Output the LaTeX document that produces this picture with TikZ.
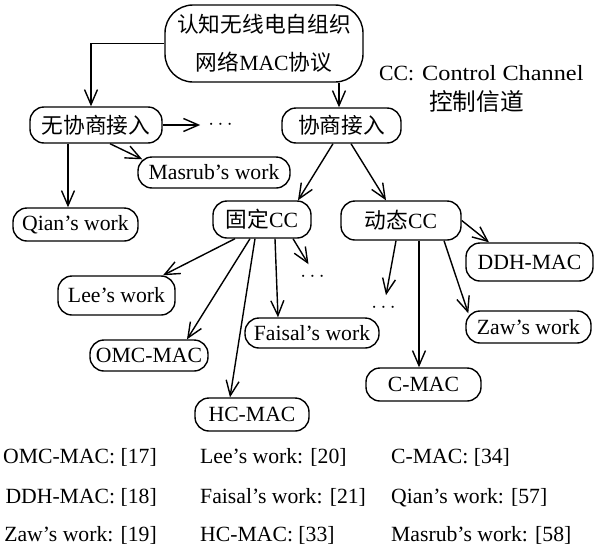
\documentclass[tikz,border=0pt]{standalone}
\usepackage{fontspec}
\usepackage{graphicx}
\setmainfont{Liberation Serif}
\newfontfamily\cjk{Noto Sans CJK SC}
\usetikzlibrary{arrows.meta}
\tikzset{
  proto/.style={draw, line width=1.4pt, rounded corners=14pt, inner sep=0pt, minimum height=34pt},
  more/.style={inner sep=8pt},
  cite/.style={inner sep=0pt},
  arr/.style={line width=1.4pt, -{Straight Barb[length=15pt,width=13pt]}}
}

\begin{document}
\begin{tikzpicture}[x=1pt,y=-1pt,font=\fontsize{21.7}{26}\selectfont]
  \useasboundingbox (0,0) rectangle (602,549);
  \node[proto, rounded corners=28pt, minimum width=198pt, minimum height=77pt, align=center,
    font=\fontsize{21.7}{38}\selectfont] (root) at (264,43.5) {{\cjk 认知无线电自组织}\\{\cjk 网络}MAC{\cjk 协议}};
  \node[cite, anchor=base west] (ccnote) at (379,80) {CC:\hspace{8pt}\scalebox{1.12}[1]{Control Channel}};
  \node[cite, font=\fontsize{23.7}{28}\selectfont] (ccname) at (476.5,101) {\cjk 控制信道};

  \node[proto, minimum width=132pt, minimum height=36pt] (nocoop) at (96,125) {\cjk 无协商接入};
  \node[more] (nocoopmore) at (220.5,125) {$\cdots$};
  \node[proto, minimum width=119pt, minimum height=35pt] (coop) at (341.5,125.5) {\cjk 协商接入};
  \node[proto, minimum width=152pt, minimum height=31pt] (masrub) at (214,172.5) {Masrub's work};
  \node[proto, minimum width=125pt, minimum height=33pt] (qian) at (75.5,224.5) {Qian's work};

  \node[proto, minimum width=98pt, minimum height=37pt] (fixed) at (262,219.5) {{\cjk 固定}CC};
  \node[proto, minimum width=120pt, minimum height=39pt] (dyn) at (401,220.5) {{\cjk 动态}CC};
  \node[more] (fixedmore) at (312.5,277) {$\cdots$};
  \node[more] (dynmore) at (383.5,308) {$\cdots$};

  \node[proto, minimum width=127pt, minimum height=38pt] (ddh) at (529.5,262) {DDH-MAC};
  \node[proto, minimum width=117pt, minimum height=39pt] (lee) at (116.5,295.5) {Lee's work};
  \node[proto, minimum width=118pt, minimum height=31pt] (omc) at (149,355.5) {OMC-MAC};
  \node[proto, minimum width=134pt, minimum height=30pt] (faisal) at (312,333) {Faisal's work};
  \node[proto, minimum width=125pt, minimum height=32pt] (zaw) at (528.5,327) {Zaw's work};
  \node[proto, minimum width=115pt, minimum height=33pt] (cmac) at (423.5,384.5) {C-MAC};
  \node[proto, minimum width=114pt, minimum height=33pt] (hcmac) at (252,414.5) {HC-MAC};

  \draw[arr] (root.west) -| ([xshift=-5pt]nocoop.north);
  \draw[arr] ([xshift=-2.5pt]coop.north |- root.south) -- ([xshift=-2.5pt]coop.north);
  \draw[arr] (nocoop.east) -- (nocoopmore.west);
  \draw[arr] ([xshift=14pt]nocoop.south) -- ([xshift=5pt,yshift=-3pt]masrub.north west);
  \draw[arr] ([xshift=-28pt]nocoop.south) -- ([xshift=-28pt]nocoop.south |- qian.north);
  \draw[arr] ([xshift=-8.5pt]coop.south) -- ([xshift=36pt]fixed.north);
  \draw[arr] ([xshift=9.5pt]coop.south) -- ([xshift=-15pt]dyn.north);

  \draw[arr] ([xshift=-27pt]fixed.south) -- ([xshift=46.5pt]lee.north);
  \draw[arr] ([xshift=-12pt]fixed.south) -- ([xshift=38pt]omc.north);
  \draw[arr] ([xshift=-7pt]fixed.south) -- ([xshift=-22pt]hcmac.north);
  \draw[arr] ([xshift=13pt]fixed.south) -- ([xshift=-34pt]faisal.north);
  \draw[arr] ([xshift=31pt]fixed.south) -- ([xshift=-4pt]fixedmore.north);

  \draw[arr] (dyn.east) -- ([xshift=-40.5pt]ddh.north);
  \draw[arr] ([xshift=-5pt]dyn.south) -- ([xshift=2.5pt]dynmore.north);
  \draw[arr] ([xshift=18pt]dyn.south) -- ([xshift=-4.5pt]cmac.north);
  \draw[arr] ([xshift=43pt]dyn.south) -- ([xshift=3pt,yshift=-3pt]zaw.north west);

  \node[cite, anchor=base east] (omcref) at (157,463) {OMC-MAC: [17]};
  \node[cite, anchor=base east] (ddhref) at (157,503) {DDH-MAC: [18]};
  \node[cite, anchor=base east] (zawref) at (157,541) {Zaw's work: [19]};
  \node[cite, anchor=base west] (leeref) at (200,463) {Lee's work: [20]};
  \node[cite, anchor=base west] (faisalref) at (200,503) {Faisal's work: [21]};
  \node[cite, anchor=base west] (hcref) at (200,541) {HC-MAC: [33]};
  \node[cite, anchor=base west] (cref) at (391,463) {C-MAC: [34]};
  \node[cite, anchor=base west] (qianref) at (391,503) {Qian's work: [57]};
  \node[cite, anchor=base west] (masrubref) at (391,541) {Masrub's work: [58]};
\end{tikzpicture}
\end{document}
